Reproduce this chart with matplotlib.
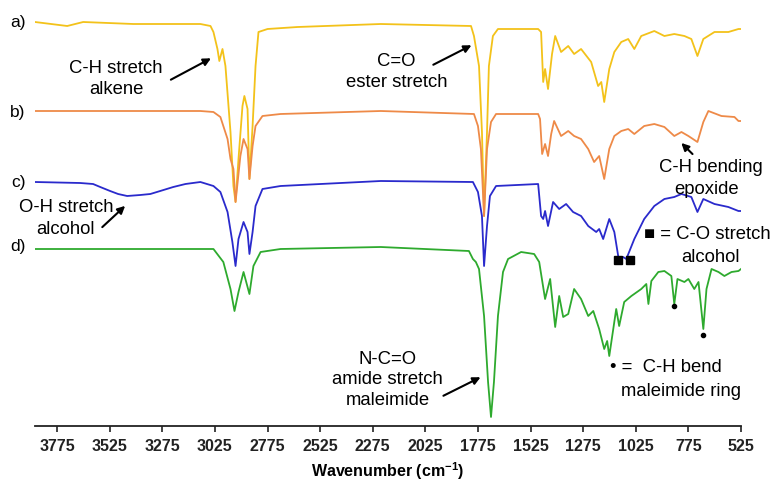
import matplotlib
matplotlib.use("Agg")
import matplotlib.pyplot as plt

plt.rcParams['font.family'] = ['Liberation Sans', 'DejaVu Sans']
plt.rcParams['mathtext.fontset'] = 'custom'
plt.rcParams['mathtext.rm'] = 'Liberation Sans'
plt.rcParams['mathtext.bf'] = 'Liberation Sans:bold'

# ---- data (wavenumber in cm-1, offset transmittance in arbitrary units) ----
wn_a = [3880, 3727, 3651, 3413, 3094, 3046, 3032, 3013, 3004, 2989, 2975, 2951, 2937, 2927,
        2913, 2894, 2885, 2870, 2861, 2846, 2832, 2818, 2775, 2632, 2237, 1808, 1794, 1770,
        1756, 1746, 1732, 1723, 1704, 1680, 1489, 1475, 1465, 1456, 1442, 1423, 1408, 1380,
        1346, 1318, 1285, 1237, 1204, 1189, 1175, 1151, 1127, 1094, 1061, 1032, 999, 937,
        889, 842, 794, 761, 732, 704, 651, 585, 537, 525]
t_a = [404, 400, 404, 402, 402, 400, 394, 377, 365, 377, 360, 294, 240, 224,
       267, 320, 330, 317, 247, 300, 360, 394, 397, 399, 402, 400, 390, 360,
       294, 210, 294, 360, 390, 397, 397, 394, 344, 357, 337, 372, 390, 374,
       380, 372, 377, 364, 340, 344, 324, 357, 374, 384, 387, 377, 390, 395,
       390, 392, 390, 387, 370, 387, 394, 394, 397, 397]

wn_b = [3880, 3570, 3094, 3032, 2999, 2965, 2951, 2937, 2927, 2904, 2889, 2870, 2861, 2846,
        2832, 2799, 2713, 2237, 1794, 1775, 1761, 1746, 1732, 1713, 1689, 1489, 1480, 1470,
        1456, 1442, 1427, 1413, 1380, 1346, 1318, 1285, 1251, 1223, 1199, 1175, 1151, 1127,
        1094, 1061, 1032, 985, 937, 889, 842, 808, 775, 732, 704, 680, 618, 556, 537, 525]
t_b = [315, 315, 315, 314, 309, 287, 267, 257, 224, 270, 287, 277, 247, 280,
       300, 310, 312, 315, 312, 300, 277, 210, 277, 304, 312, 312, 307, 272,
       282, 270, 292, 305, 290, 295, 290, 287, 277, 264, 270, 247, 277, 290,
       295, 297, 292, 300, 302, 299, 290, 294, 290, 284, 304, 315, 310, 309, 305, 305]

wn_c = [3880, 3665, 3604, 3570, 3523, 3485, 3442, 3380, 3332, 3285, 3223, 3165, 3094, 3032,
        2999, 2965, 2942, 2927, 2913, 2889, 2870, 2861, 2846, 2832, 2799, 2713, 2237, 1799,
        1775, 1756, 1746, 1732, 1718, 1689, 1489, 1475, 1465, 1456, 1442, 1418, 1389, 1356,
        1323, 1285, 1251, 1213, 1199, 1180, 1151, 1127, 1104, 1085, 1070, 1032, 985, 937,
        889, 842, 808, 761, 732, 704, 651, 585, 537, 525]
t_c = [244, 243, 242, 239, 235, 232, 230, 231, 232, 235, 239, 242, 244, 240,
       234, 214, 184, 160, 187, 204, 194, 172, 194, 220, 237, 240, 245, 244,
       234, 210, 160, 200, 230, 240, 242, 210, 207, 215, 200, 224, 217, 222,
       214, 210, 200, 194, 197, 187, 207, 194, 164, 169, 167, 187, 207, 220,
       227, 229, 232, 229, 214, 227, 222, 219, 215, 215]

wn_d = [3880, 3094, 3032, 2985, 2951, 2932, 2913, 2889, 2861, 2842, 2808, 2713, 2237, 1818,
        1799, 1785, 1770, 1746, 1727, 1713, 1699, 1680, 1656, 1632, 1570, 1508, 1484, 1456,
        1432, 1408, 1389, 1370, 1346, 1318, 1285, 1251, 1227, 1199, 1175, 1161, 1151, 1132,
        1118, 1104, 1080, 1046, 999, 975, 965, 951, 918, 889, 856, 842, 827, 794, 775, 747,
        727, 704, 689, 665, 632, 604, 570, 537, 525]
t_d = [177, 177, 177, 164, 137, 115, 134, 154, 132, 160, 174, 177, 179, 175,
       167, 164, 157, 110, 44, 9, 44, 110, 154, 167, 174, 172, 164, 127,
       147, 99, 130, 109, 112, 137, 127, 110, 115, 97, 77, 85, 70, 97,
       117, 100, 124, 130, 137, 142, 122, 145, 154, 155, 150, 122, 147, 144, 147, 137,
       144, 97, 137, 157, 154, 150, 154, 155, 157]

series_labels = ['a)', 'b)', 'c)', 'd)']
colors = ['#F3C21A', '#EE8A48', '#2A2ACC', '#2EAA2E']

# marker positions
sq_wn = [1108, 1051]
sq_t = [166, 166]
dot_wn = [842, 704]
dot_t = [120, 91]

ticks = [3775, 3525, 3275, 3025, 2775, 2525, 2275, 2025, 1775, 1525, 1275, 1025, 775, 525]

fig = plt.figure(figsize=(7.71, 4.81), dpi=100)
ax = fig.add_axes([35/771, 54/481, (741-35)/771, 427/481])

for wn, t, c in zip([wn_a, wn_b, wn_c, wn_d], [t_a, t_b, t_c, t_d], colors):
    ax.plot(wn, t, color=c, lw=1.3, solid_joinstyle='round')

ax.plot(sq_wn, sq_t, 's', color='black', ms=5.5, ls='none')
ax.plot(dot_wn, dot_t, 'o', color='black', ms=3, ls='none')

ax.set_xlim(3880, 525)
ax.set_ylim(0, 427)
ax.set_xticks(ticks)
ax.set_xticklabels([str(t) for t in ticks], fontsize=11.5, fontweight='bold')
ax.set_yticks([])
for s in ['top', 'right', 'left']:
    ax.spines[s].set_visible(False)
ax.spines['bottom'].set_linewidth(1.3)
ax.spines['bottom'].set_color('#222222')
ax.tick_params(axis='x', direction='out', length=4, width=1.2, pad=5, colors='#222222')
ax.set_xlabel(r'Wavenumber (cm$^{\mathbf{-1}}$)', fontsize=11.5, fontweight='bold', labelpad=4)

# trace labels
lab_y = [404, 315, 245, 180]
for lbl, y in zip(series_labels, lab_y):
    fig.text(18/771, (y + 54)/481, lbl, fontsize=12.5, ha='center', va='center')

fs = 13.3
kw = dict(fontsize=fs, ha='center', va='center', linespacing=1.25, clip_on=False)
ax.text(3494, 348, 'C-H stretch\nalkene', **kw)
ax.text(2161, 355, 'C=O\nester stretch', **kw)
ax.text(3732, 219, 'O-H stretch', **kw)
ax.text(3737, 197, 'alcohol', **kw)
ax.text(670, 259, 'C-H bending', **kw)
ax.text(690, 237, 'epoxide', **kw)
ax.text(2205, 47, 'N-C=O\namide stretch\nmaleimide', **kw)
ax.text(685, 192, '\u25a0 = C-O stretch', **kw)
ax.text(670, 170, 'alcohol', **kw)
ax.text(880, 59, '\u2022 =  C-H bend', **kw)
ax.text(808, 35, 'maleimide ring', **kw)

arr = dict(arrowstyle='-|>', color='black', lw=1.5, mutation_scale=11)
ax.annotate('', xy=(3032, 369), xytext=(3246, 345), arrowprops=arr)
ax.annotate('', xy=(1794, 382), xytext=(1999, 360), arrowprops=arr)
ax.annotate('', xy=(3442, 222), xytext=(3570, 197), arrowprops=arr)
ax.annotate('', xy=(818, 285), xytext=(746, 270), arrowprops=arr)
ax.annotate('', xy=(1751, 50), xytext=(1951, 29), arrowprops=arr)

fig.savefig('out.png', dpi=100)
